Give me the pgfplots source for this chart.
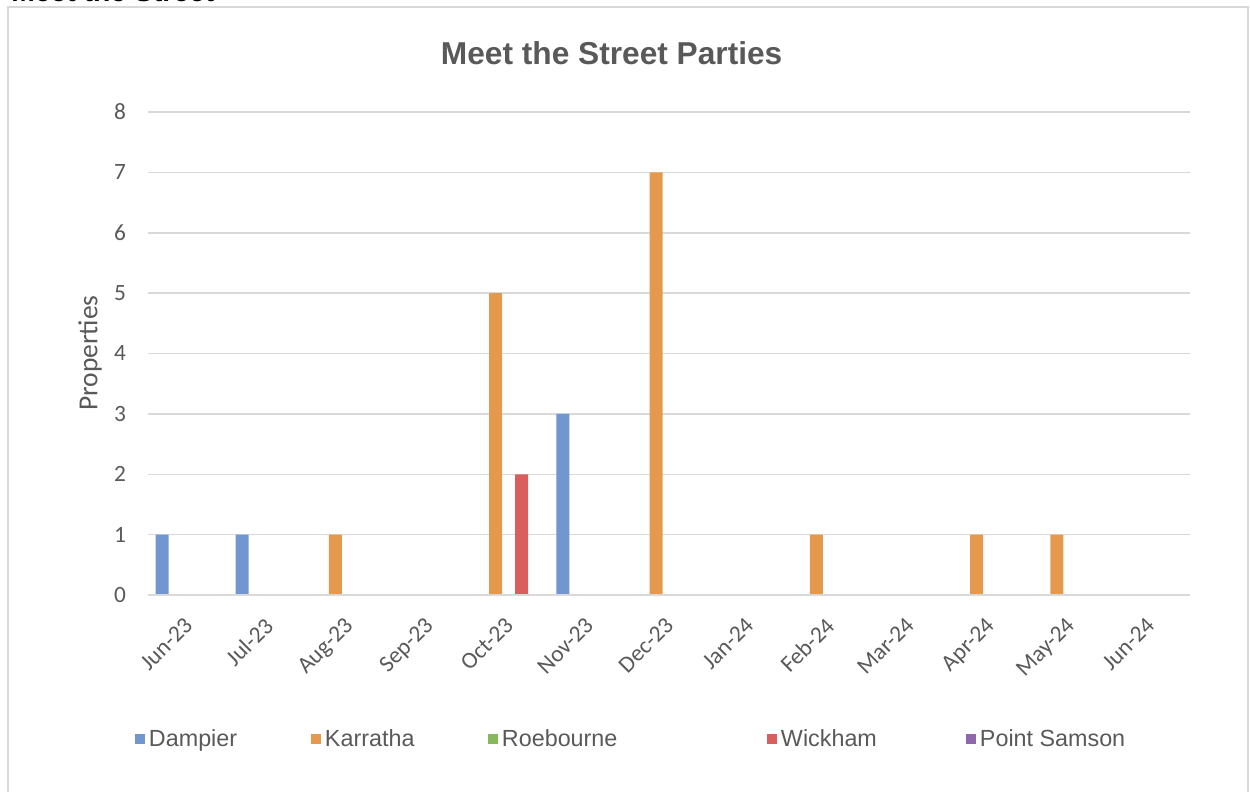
\documentclass[border=0pt]{standalone}
\usepackage{pgfplots}
\pgfplotsset{compat=1.18}
\usepackage{fontspec}
\setmainfont{Liberation Sans}
\newfontfamily\carlito{Carlito}
\definecolor{cBlue}{RGB}{114,150,207}
\definecolor{cOrange}{RGB}{228,153,76}
\definecolor{cGreen}{RGB}{135,185,92}
\definecolor{cRed}{RGB}{217,95,95}
\definecolor{cPurple}{RGB}{143,104,172}
\definecolor{txt}{RGB}{89,89,89}
\definecolor{gridc}{RGB}{217,217,217}
\begin{document}
\begin{tikzpicture}
\useasboundingbox (0,0) rectangle (750pt,474.6pt);
\clip (0,0) rectangle (750pt,474.6pt);
\node[anchor=base west,font=\bfseries\fontsize{17}{20}\selectfont,inner sep=0] at (6.6pt,473.4pt) {Meet the Street};
\draw[gridc,line width=0.9pt] (4.8pt,-10pt) -- (4.8pt,470.4pt) -- (748.8pt,470.4pt) -- (748.8pt,-10pt);
\node[anchor=base,font=\bfseries\fontsize{19}{22}\selectfont,text=txt,inner sep=0] at (367pt,435.6pt) {Meet the Street Parties};
\begin{axis}[
  at={(88.8pt,117.6pt)}, anchor=south west,
  scale only axis, width=625.2pt, height=289.8pt,
  ybar=0pt, bar width=7.8pt,
  xmin=-0.5, xmax=12.5, ymin=0, ymax=8,
  xtick={0,...,12},
  xticklabels={Jun-23,Jul-23,Aug-23,Sep-23,Oct-23,Nov-23,Dec-23,Jan-24,Feb-24,Mar-24,Apr-24,May-24,Jun-24},
  ytick={0,...,8},
  /pgf/number format/assume math mode=true,
  ticklabel style={font=\carlito\fontsize{14}{16}\selectfont, text=txt},
  xticklabel style={xshift=-3pt, yshift=-9.6pt, rotate=45, anchor=north east, inner sep=2pt},
  yticklabel style={xshift=-9.7pt},
  major tick length=0pt,
  axis line style={draw=none},
  ymajorgrids, grid style={gridc, line width=0.9pt},
  ylabel={Properties},
  every axis y label/.style={at={(axis description cs:-0.0557,0.501)}, rotate=90, anchor=center, font=\carlito\fontsize{16.5}{19}\selectfont, text=txt},
  legend columns=5,
  legend style={at={(axis description cs:-0.01248,-0.298)}, anchor=west, draw=none, fill=none, inner sep=0pt, outer sep=0pt,
    nodes={inner sep=0pt, outer sep=0pt, font=\fontsize{14}{16}\selectfont, text=txt},
    /tikz/every even column/.style={column sep=0pt},
    /tikz/every odd column/.style={column sep=0pt}},
  legend image code/.code={\fill[#1,draw=none] (0pt,-3pt) rectangle (6pt,3pt);},
  legend cell align=left,
]
\addplot[fill=cBlue, draw=none] coordinates {(0,1) (1,1) (2,0) (3,0) (4,0) (5,3) (6,0) (7,0) (8,0) (9,0) (10,0) (11,0) (12,0)};
\addplot[fill=cOrange, draw=none] coordinates {(0,0) (1,0) (2,1) (3,0) (4,5) (5,0) (6,7) (7,0) (8,1) (9,0) (10,1) (11,1) (12,0)};
\addplot[fill=cGreen, draw=none] coordinates {(0,0) (1,0) (2,0) (3,0) (4,0) (5,0) (6,0) (7,0) (8,0) (9,0) (10,0) (11,0) (12,0)};
\addplot[fill=cRed, draw=none] coordinates {(0,0) (1,0) (2,0) (3,0) (4,2) (5,0) (6,0) (7,0) (8,0) (9,0) (10,0) (11,0) (12,0)};
\addplot[fill=cPurple, draw=none] coordinates {(0,0) (1,0) (2,0) (3,0) (4,0) (5,0) (6,0) (7,0) (8,0) (9,0) (10,0) (11,0) (12,0)};
\legend{\makebox[99.6pt][l]{\hspace{2.4pt}Dampier},\makebox[100.2pt][l]{\hspace{2.4pt}Karratha},\makebox[161.4pt][l]{\hspace{2.4pt}Roebourne},\makebox[113.4pt][l]{\hspace{2.4pt}Wickham},\hspace{2.4pt}Point Samson}
\draw[gridc, line width=0.9pt] (axis cs:-0.5,0) -- (axis cs:12.5,0);
\end{axis}
\end{tikzpicture}
\end{document}
